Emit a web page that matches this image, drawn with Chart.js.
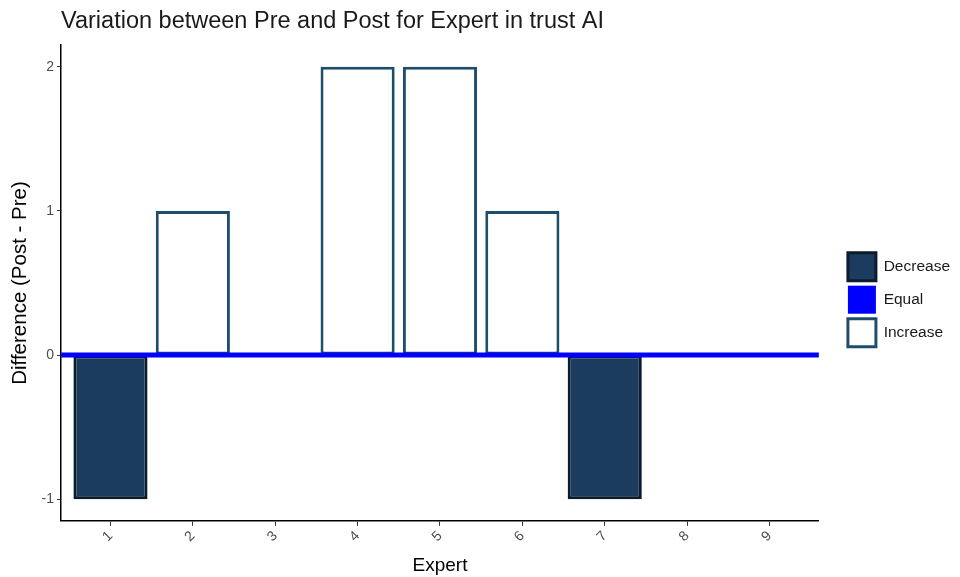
<!DOCTYPE html>
<html>
<head>
<meta charset="utf-8">
<script src="https://cdn.jsdelivr.net/npm/chart.js@4/dist/chart.umd.min.js"></script>
<style>
html,body{margin:0;padding:0;background:#fff;}
#wrap{width:960px;height:577px;}
</style>
</head>
<body>
<div id="wrap"><canvas id="c" width="960" height="577"></canvas></div>
<script>
const categories = ["1","2","3","4","5","6","7","8","9"];
const differences = [-1, 1, 0, 2, 2, 1, -1, 0, 0];
const groups = ["Decrease","Increase","Equal","Increase","Increase","Increase","Decrease","Equal","Equal"];
const legendNames = ["Decrease","Equal","Increase"];
const yTicks = [-1, 0, 1, 2];

const fillColors = {Decrease:"#1b3b5f", Equal:"#0000ff", Increase:"#ffffff"};
const lineColors = {Decrease:"#0c1c2c", Equal:"#0000ff", Increase:"#1f4e6d"};

const barData = categories.map((c,i)=>({x:i+1, y:differences[i]}));
const barRows = barData.filter((d,i)=>groups[i] !== "Equal");
const barGroups = groups.filter(g=>g !== "Equal");

new Chart(document.getElementById('c'), {
  data: {
    datasets: [
      {
        type: 'line',
        label: 'Equal',
        data: [{x:0.4, y:0},{x:categories.length+0.6, y:0}],
        borderColor: fillColors.Equal,
        borderWidth: 5,
        pointRadius: 0,
        order: 0
      },
      {
        type: 'bar',
        label: 'bars',
        data: barRows,
        backgroundColor: barGroups.map(g=>fillColors[g]),
        borderColor: barGroups.map(g=>lineColors[g]),
        borderWidth: 3,
        borderSkipped: false,
        barPercentage: 0.9,
        categoryPercentage: 1.0,
        order: 1
      }
    ]
  },
  options: {
    responsive: false,
    animation: false,
    layout: {padding: {left: 8, right: 0, top: 0, bottom: 0}},
    plugins: {
      title: {
        display: true,
        text: 'Variation between Pre and Post for Expert in trust AI',
        align: 'start',
        fullSize: false,
        color: '#1a1a1a',
        font: {family: 'Liberation Sans', size: 23.5, weight: 'normal'},
        padding: {top: 7, bottom: 10}
      },
      legend: {
        position: 'right',
        align: 'center',
        title: {display: true, text: ' ', font: {size: 12}, padding: 4},
        labels: {
          boxWidth: 28,
          boxHeight: 28,
          padding: 5,
          color: '#1a1a1a',
          font: {family: 'Liberation Sans', size: 15.5},
          generateLabels: () => legendNames.map(n => ({
            text: n,
            fillStyle: fillColors[n],
            strokeStyle: n === 'Equal' ? fillColors[n] : lineColors[n],
            lineWidth: n === 'Equal' ? 0 : 3,
            fontColor: '#1a1a1a',
            hidden: false,
            datasetIndex: 0
          }))
        }
      },
      tooltip: {enabled: false}
    },
    scales: {
      x: {
        type: 'linear',
        offset: false,
        min: 0.4,
        max: categories.length + 0.6,
        title: {display: true, text: 'Expert', color: '#000', font: {family: 'Liberation Sans', size: 19}, padding: {top: 7, bottom: 0}},
        ticks: {
          stepSize: 1,
          includeBounds: false,
          minRotation: 45,
          maxRotation: 45,
          padding: 2,
          color: '#4d4d4d',
          font: {family: 'Liberation Sans', size: 14},
          callback: v => categories[v-1] ?? ''
        },
        grid: {display: true, offset: false, drawOnChartArea: false, tickLength: 5, color: '#333', tickColor: '#333'},
        border: {display: true, color: '#000', width: 1.5}
      },
      y: {
        type: 'linear',
        min: -1.15,
        max: 2.15,
        afterBuildTicks: s => { s.ticks = yTicks.map(v=>({value:v})); },
        title: {display: true, text: 'Difference (Post - Pre)', color: '#000', font: {family: 'Liberation Sans', size: 20.5}, padding: {top: 0, bottom: 6}},
        ticks: {
          color: '#4d4d4d',
          font: {family: 'Liberation Sans', size: 14},
          padding: 3
        },
        grid: {display: true, drawOnChartArea: false, tickLength: 4, color: '#333', tickColor: '#333'},
        border: {display: true, color: '#000', width: 1.5}
      },
      spacer: {
        type: 'linear',
        position: 'right',
        display: true,
        ticks: {display: false},
        grid: {display: false},
        border: {display: false},
        afterFit: s => { s.width = 24; }
      }
    }
  }
});
</script>
</body>
</html>
